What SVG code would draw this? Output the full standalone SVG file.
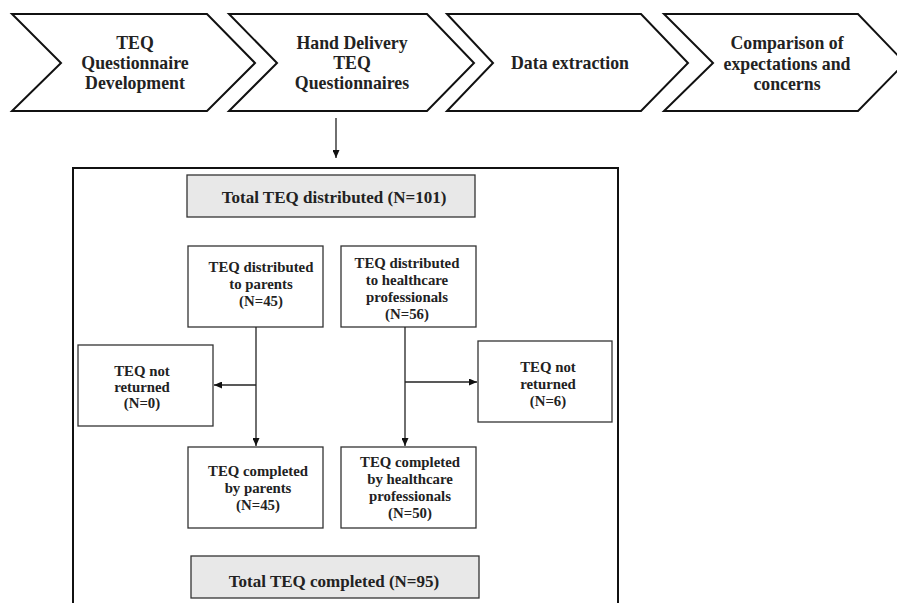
<svg xmlns="http://www.w3.org/2000/svg" width="897" height="603" viewBox="0 0 897 603">
<style>
.chev{fill:#fff;stroke:#111;stroke-width:2;stroke-linejoin:miter}
.box{fill:#fff;stroke:#333;stroke-width:1.3}
.gbox{fill:#e8e8e8;stroke:#333;stroke-width:1.3}
.outer{fill:none;stroke:#111;stroke-width:2}
.t{font-family:"Liberation Serif","Times New Roman",serif;font-weight:bold;fill:#222;text-anchor:middle}
.t17{font-size:17px}
.t18{font-size:17.8px}
.t15{font-size:14.8px}
.conn{fill:none;stroke:#222;stroke-width:1.3}
</style>
<defs>
<marker id="ah" markerUnits="userSpaceOnUse" markerWidth="8" markerHeight="7" refX="8" refY="3.5" orient="auto">
<path d="M0,0 L8,3.5 L0,7 z" fill="#111"/>
</marker>
</defs>
<rect width="897" height="603" fill="#fff"/>
<g id="chevron1">
<polygon class="chev" points="12,14 207,14 255,63 207,111 12,111 61,63"/>
<text class="t t18" x="135" y="49">TEQ</text>
<text class="t t18" x="135" y="69">Questionnaire</text>
<text class="t t18" x="135" y="89">Development</text>
</g>
<g id="chevron2">
<polygon class="chev" points="229,14 427,14 474,63 427,111 229,111 277,63"/>
<text class="t t18" x="352" y="49">Hand Delivery</text>
<text class="t t18" x="352" y="69">TEQ</text>
<text class="t t18" x="352" y="89">Questionnaires</text>
</g>
<g id="chevron3">
<polygon class="chev" points="447,14 641,14 688,63 641,111 447,111 493,63"/>
<text class="t t18" x="570" y="69">Data extraction</text>
</g>
<g id="chevron4">
<polygon class="chev" points="664,14 858,14 905,63 858,111 664,111 713,63"/>
<text class="t t18" x="787" y="49">Comparison of</text>
<text class="t t18" x="787" y="70">expectations and</text>
<text class="t t18" x="787" y="90">concerns</text>
</g>
<g id="outer-box">
<rect class="outer" x="73" y="168" width="545" height="460"/>
</g>
<g id="total-distributed">
<rect class="gbox" x="187" y="175" width="288" height="42"/>
<text class="t t17" x="334" y="203">Total TEQ distributed (N=101)</text>
</g>
<g id="dist-parents">
<rect class="box" x="188" y="246" width="135" height="81"/>
<text class="t t15" x="261" y="272">TEQ distributed</text>
<text class="t t15" x="261" y="289">to parents</text>
<text class="t t15" x="261" y="306">(N=45)</text>
</g>
<g id="dist-hcp">
<rect class="box" x="341" y="246" width="135" height="81"/>
<text class="t t15" x="407" y="268">TEQ distributed</text>
<text class="t t15" x="407" y="285">to healthcare</text>
<text class="t t15" x="407" y="302">professionals</text>
<text class="t t15" x="407" y="319">(N=56)</text>
</g>
<g id="not-returned-parents">
<rect class="box" x="78" y="345" width="135" height="81"/>
<text class="t t15" x="142" y="376">TEQ not</text>
<text class="t t15" x="142" y="392">returned</text>
<text class="t t15" x="142" y="408">(N=0)</text>
</g>
<g id="not-returned-hcp">
<rect class="box" x="478" y="341" width="134" height="81"/>
<text class="t t15" x="548" y="372">TEQ not</text>
<text class="t t15" x="548" y="389">returned</text>
<text class="t t15" x="548" y="406">(N=6)</text>
</g>
<g id="completed-parents">
<rect class="box" x="188" y="447" width="135" height="81"/>
<text class="t t15" x="258" y="476">TEQ completed</text>
<text class="t t15" x="258" y="493">by parents</text>
<text class="t t15" x="258" y="510">(N=45)</text>
</g>
<g id="completed-hcp">
<rect class="box" x="341" y="447" width="135" height="81"/>
<text class="t t15" x="410" y="467">TEQ completed</text>
<text class="t t15" x="410" y="484">by healthcare</text>
<text class="t t15" x="410" y="501">professionals</text>
<text class="t t15" x="410" y="518">(N=50)</text>
</g>
<g id="total-completed">
<rect class="gbox" x="191" y="556" width="288" height="42"/>
<text class="t t17" x="334" y="587">Total TEQ completed (N=95)</text>
</g>
<g id="connectors">
<path class="conn" d="M336,118 V158" marker-end="url(#ah)"/>
<path class="conn" d="M256,327 V446" marker-end="url(#ah)"/>
<path class="conn" d="M256,385 H214" marker-end="url(#ah)"/>
<path class="conn" d="M405,327 V446" marker-end="url(#ah)"/>
<path class="conn" d="M405,382 H477" marker-end="url(#ah)"/>
</g>
</svg>
